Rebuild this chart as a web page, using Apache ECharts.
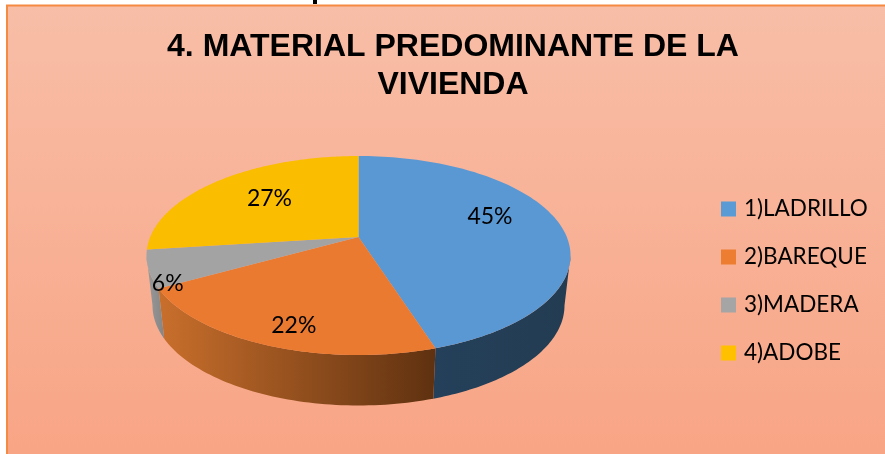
<!DOCTYPE html>
<html><head><meta charset="utf-8">
<style>html,body{margin:0;padding:0;background:#fff}#c{width:885px;height:454px}</style>
<script src="https://cdn.jsdelivr.net/npm/echarts@6/dist/echarts.min.js"></script>
</head><body><div id="c"></div>
<script>
const categories = ['1)LADRILLO', '2)BAREQUE', '3)MADERA', '4)ADOBE'];
const values = [45, 22, 6, 27];
const labelsText = ['45%', '22%', '6%', '27%'];
const colors = ['#5B9BD5', '#ED7D31', '#A5A5A5', '#FFC000'];
const faceColors = ['#5A98D4', '#EA7A30', '#A3A3A3', '#FBBD00'];
const titleText = '4. MATERIAL PREDOMINANTE DE LA\nVIVIENDA';

// Label positions on the top face, as fractions of the ellipse radii
const labelFrac = [[0.62, -0.39], [-0.305, 0.70], [-0.90, 0.28], [-0.42, -0.57]];

// Tilted-pie geometry
const TOP = {cx: 358.5, cy: 255.5, rx: 212, ry: 99.5};
const BOT = {cx: 358.5, cy: 305.5, rx: 206, ry: 100};
const APEX_N = -0.186;            // apex offset on the normalised top face
const total = values.reduce((a, b) => a + b, 0);

// true angle -> parametric angle on the ellipse, by casting a ray from the apex
function phi(theta) {
  const s = Math.sin(theta), c = -Math.cos(theta);
  const b = APEX_N * c;
  const t = -b + Math.sqrt(b * b - (APEX_N * APEX_N - 1));
  return Math.atan2(t * s, -(APEX_N + t * c));
}
function pt(e, p) { return [e.cx + e.rx * Math.sin(p), e.cy - e.ry * Math.cos(p)]; }
function norm(p) { return p < 0 ? p + 2 * Math.PI : p; }

let acc = 0;
const bounds = values.map(v => { const a = acc; acc += v; return [a / total * 2 * Math.PI, acc / total * 2 * Math.PI]; });

function arc(e, a, b, n) {
  const out = [];
  for (let i = 0; i <= n; i++) out.push(pt(e, a + (b - a) * i / n));
  return out;
}
function wallFill(idx) {
  const stops = [
    ['#24405a', '#233c52'],
    ['#c96f2c', '#5f3110'],
    ['#9a9a9a', '#858585'],
    ['#7f6000', '#7f6000']
  ][idx];
  return new echarts.graphic.LinearGradient(0, 0, 1, 0, [{offset: 0, color: stops[0]}, {offset: 1, color: stops[1]}]);
}
function sliceItem(idx) {
  return function () {
    const [t0, t1] = bounds[idx];
    const p0 = t0 === 0 ? 0 : norm(phi(t0));
    const p1 = t1 >= 2 * Math.PI - 1e-6 ? 2 * Math.PI : norm(phi(t1));
    const apex = [TOP.cx, TOP.cy + APEX_N * TOP.ry];
    const children = [];
    // side wall: visible between phi=90deg and phi=270deg
    const w0 = Math.max(p0, Math.PI / 2), w1 = Math.min(p1, 3 * Math.PI / 2);
    if (w1 > w0) {
      const topArc = arc(TOP, w0, w1, 60), botArc = arc(BOT, w0, w1, 60).reverse();
      children.push({type: 'polygon', shape: {points: topArc.concat(botArc)}, style: {fill: wallFill(idx)}});
    }
    // top face
    children.push({type: 'polygon', shape: {points: [apex].concat(arc(TOP, p0, p1, 120))}, style: {fill: faceColors[idx]}});
    return {type: 'group', children};
  };
}
function labelItem() {
  return {type: 'group', children: values.map((v, i) => ({
    type: 'text',
    style: {
      x: TOP.cx + labelFrac[i][0] * TOP.rx,
      y: TOP.cy + labelFrac[i][1] * TOP.ry,
      text: labelsText[i], fill: '#000', font: '23px Lato, sans-serif',
      align: 'center', verticalAlign: 'middle'
    }
  }))};
}

const series = categories.map((name, i) => ({
  type: 'custom', name, coordinateSystem: 'none', silent: true, animation: false,
  itemStyle: {color: colors[i]}, data: [values[i]], renderItem: sliceItem(i), z: 2
}));
series.push({type: 'custom', coordinateSystem: 'none', silent: true, animation: false, data: [0], renderItem: labelItem, z: 5});

const chart = echarts.init(document.getElementById('c'), null, {renderer: 'canvas'});
chart.setOption({
  animation: false,
  backgroundColor: '#fff',
  title: {
    text: titleText, left: 448, top: 23, textAlign: 'center',
    textStyle: {fontFamily: '"Liberation Sans", Arial, sans-serif', fontWeight: 'bold', fontSize: 32, lineHeight: 38, color: '#000'}
  },
  legend: {
    orient: 'vertical', left: 716, top: 191, itemWidth: 15, itemHeight: 15, itemGap: 22,
    icon: 'rect', data: categories, selectedMode: false,
    textStyle: {fontFamily: 'Lato, sans-serif', fontSize: 22.5, color: '#000', lineHeight: 26, padding: [0, 0, 0, 3]}
  },
  graphic: [
    {type: 'rect', z: -10, silent: true, shape: {x: 7, y: 5.5, width: 890, height: 460},
     style: {fill: new echarts.graphic.LinearGradient(0, 0, 0, 1, [{offset: 0, color: '#f8bea7'}, {offset: 1, color: '#f8a484'}]), stroke: '#f58a42', lineWidth: 2}},
    {type: 'rect', z: -9, silent: true, shape: {x: 313, y: 0, width: 4, height: 4}, style: {fill: '#000'}}
  ],
  series
});
</script></body></html>
